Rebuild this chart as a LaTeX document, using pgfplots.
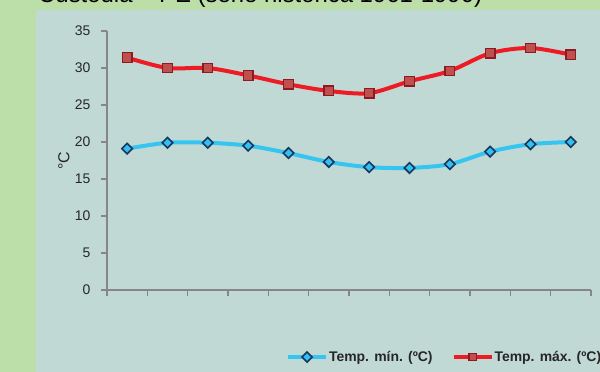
\documentclass[border=0pt]{standalone}
\usepackage{pgfplots}
\pgfplotsset{compat=1.18}
\usepackage{fontspec}
\setmainfont{Liberation Sans}

\definecolor{outergreen}{RGB}{188,222,168}
\definecolor{panel}{RGB}{193,217,213}
\definecolor{maxline}{RGB}{237,28,36}
\definecolor{maxfill}{RGB}{192,80,77}
\definecolor{maxedge}{RGB}{140,26,36}
\definecolor{minline}{RGB}{54,197,240}
\definecolor{minfill}{RGB}{51,191,239}
\definecolor{minedge}{RGB}{23,55,94}
\definecolor{axisgray}{RGB}{134,134,134}
\definecolor{txt}{RGB}{38,38,38}

\begin{document}
\begin{tikzpicture}
\useasboundingbox (0bp,0bp) rectangle (600bp,372bp);
\clip (0bp,0bp) rectangle (600bp,372bp);
\fill[outergreen] (0bp,0bp) rectangle (600bp,372bp);
\fill[panel] (36bp,0bp) rectangle (600bp,362bp);
\node[anchor=base west, font=\fontsize{24}{28}\selectfont, inner sep=0, text=black]
  at (38bp,369bp) {Custódia – PE (série histórica 1961-1990)};
\begin{axis}[
  at={(107bp,82bp)}, anchor=south west,
  width=484bp, height=259bp, scale only axis,
  xmin=0.5, xmax=12.5, ymin=0, ymax=35,
  axis lines*=left,
  axis line style={axisgray, line width=1.4bp},
  every tick/.style={axisgray, line width=1.2bp},
  tick align=outside,
  major tick length=6bp,
  xtick={0.5,1.5,...,12.5}, xticklabels={},
  ytick={0,5,...,35},
  /pgf/number format/assume math mode=true,
  yticklabel style={font=\fontsize{14}{16}\selectfont, text=txt, xshift=-7bp},
  ylabel={°C},
  ylabel style={at={(axis description cs:-0.089,0.5)}, anchor=center,
    font=\fontsize{16}{18}\selectfont, text=txt},
  legend columns=2,
  legend style={at={(axis description cs:0.370,-0.259)}, anchor=west,
    draw=none, fill=none, inner sep=0pt, outer sep=0pt,
    font=\fontsize{14}{16}\bfseries\selectfont, text=txt,
    nodes={inner sep=1bp},
    /tikz/every even column/.append style={column sep=18bp}},
  legend image code/.code={
    \draw[#1, mark repeat=2, mark phase=2, mark size=3.6bp]
      plot coordinates {(0bp,0bp) (19bp,0bp) (38bp,0bp)};},
  clip=false,
]
\addplot[minline, line width=4bp, smooth,
  mark=square*, mark size=3.7bp,
  mark options={fill=minfill, draw=minedge, line width=1.6bp, rotate=45}]
  coordinates {(1,19.1) (2,19.9) (3,19.9) (4,19.5) (5,18.5) (6,17.3)
               (7,16.6) (8,16.5) (9,17.0) (10,18.7) (11,19.7) (12,20.0)};
\addlegendentry{Temp. mín. (ºC)}
\addplot[maxline, line width=4bp, smooth,
  mark=square*, mark size=4.8bp,
  mark options={fill=maxfill, draw=maxedge, line width=1.3bp}]
  coordinates {(1,31.4) (2,30.0) (3,30.0) (4,29.0) (5,27.8) (6,26.9)
               (7,26.6) (8,28.2) (9,29.6) (10,32.0) (11,32.7) (12,31.8)};
\addlegendentry{Temp. máx. (ºC)}
\end{axis}
\end{tikzpicture}
\end{document}
